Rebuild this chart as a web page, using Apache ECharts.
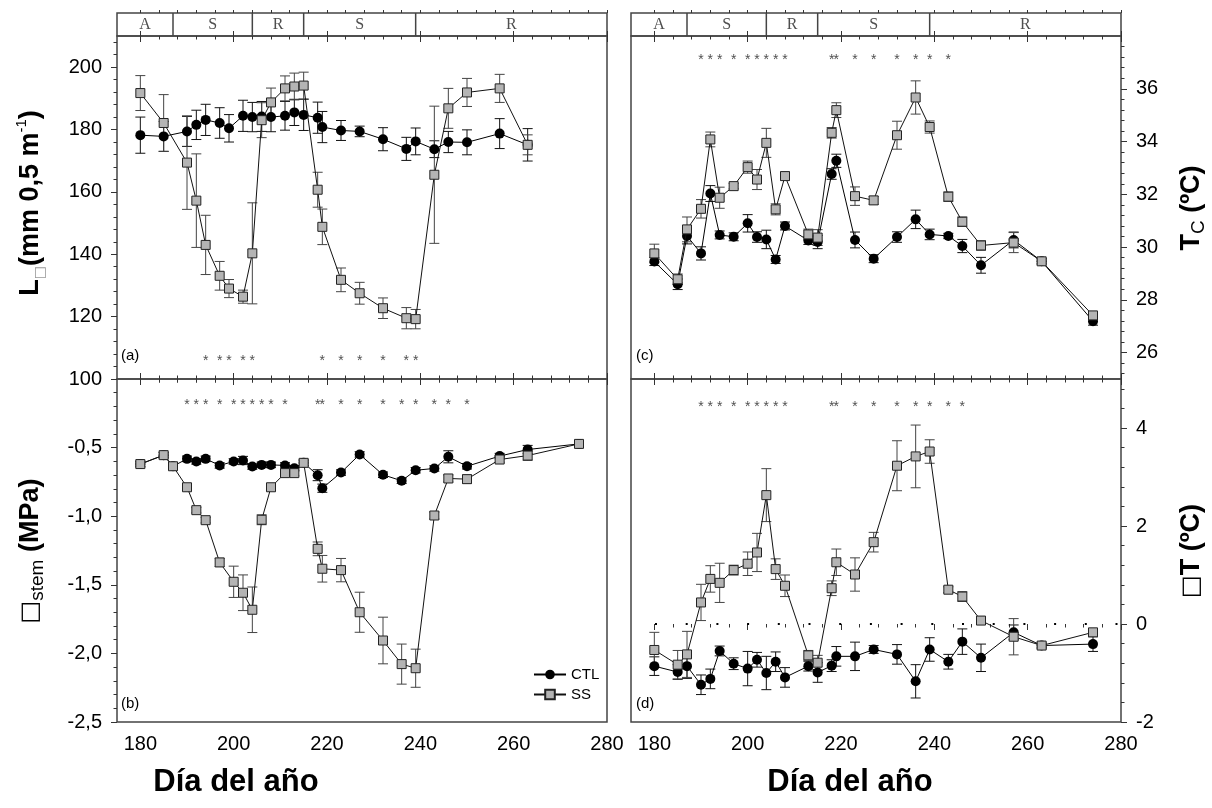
<!DOCTYPE html>
<html>
<head>
<meta charset="utf-8">
<script src="https://cdn.jsdelivr.net/npm/echarts@6/dist/echarts.min.js"></script>
<style>
  html, body { margin: 0; padding: 0; background: #fff; }
  #chart { width: 1212px; height: 808px; }
</style>
</head>
<body>
<div id="chart"></div>
<script>
// ---- data ----
var xTickLabels = [180, 200, 220, 240, 260, 280];
var lTickLabels = [100, 120, 140, 160, 180, 200];
var psiTickLabels = [-2.5, -2, -1.5, -1, -0.5];
var tcTickLabels = [26, 28, 30, 32, 34, 36];
var dtTickLabels = [-2, 0, 2, 4];

var phaseBounds = [175, 187, 204, 215, 239, 280];
var phaseNames = ['A', 'S', 'R', 'S', 'R'];

// (a) L
var daysA = [180,185,190,192,194,197,199,202,204,206,208,211,213,215,218,219,223,227,232,237,239,243,246,250,257,263];
var lCtl = [178.2,177.8,179.4,181.5,183.1,182.1,180.4,184.4,184.0,184.2,184.0,184.4,185.5,184.7,183.8,180.8,179.7,179.4,176.9,173.8,176.2,173.7,176.0,175.9,178.7,175.1];
var lCtlErr = [5.8,4.8,4.8,4.7,5.0,4.9,4.4,5.0,4.7,4.8,4.7,4.6,4.2,5.0,5.0,5.0,3.2,1.7,3.7,3.7,4.3,2.7,3.4,4.0,4.8,5.2];
var lSs = [191.7,182.1,169.4,157.2,143.0,133.1,129.0,126.4,140.3,183.0,188.7,193.2,193.8,194.1,160.7,148.8,131.8,127.5,122.7,119.5,119.2,165.5,186.8,191.9,193.2,175.1];
var lSsErr = [5.6,9.1,15,15,9.5,4.6,2.9,2.1,16.2,5.6,4.6,4.0,4.3,4.3,5.6,5.7,3.8,3.5,3.3,3.4,3.1,22,6.4,4.5,4.5,3.2];
var starsA = [194,197,199,202,204,219,223,227,232,237,239];

// (b) stem water potential
var daysB = [180,185,187,190,192,194,197,200,202,204,206,208,211,213,215,218,219,223,227,232,236,239,243,246,250,257,263,274];
var psiCtl = [-0.62,-0.555,-0.636,-0.582,-0.601,-0.582,-0.630,-0.601,-0.594,-0.638,-0.626,-0.626,-0.630,-0.650,-0.611,-0.701,-0.796,-0.682,-0.550,-0.698,-0.742,-0.665,-0.652,-0.567,-0.636,-0.562,-0.514,-0.473];
var psiCtlErr = [0.02,0.02,0.02,0.02,0.02,0.02,0.02,0.02,0.03,0.02,0.02,0.02,0.02,0.02,0.02,0.04,0.03,0.02,0.02,0.02,0.02,0.02,0.02,0.044,0.02,0.02,0.03,0.02];
var psiSs = [-0.62,-0.555,-0.636,-0.789,-0.956,-1.029,-1.337,-1.478,-1.558,-1.682,-1.026,-0.789,-0.686,-0.686,-0.611,-1.238,-1.383,-1.393,-1.700,-1.906,-2.078,-2.108,-0.995,-0.725,-0.730,-0.587,-0.558,-0.473];
var psiSsErr = [0.02,0.02,0.02,0.02,0.02,0.02,0.03,0.114,0.13,0.166,0.036,0.02,0.02,0.02,0.02,0.05,0.097,0.085,0.146,0.17,0.146,0.139,0.025,0.025,0.03,0.02,0.035,0.02];
var starsB = [190,192,194,197,200,202,204,206,208,211,218,219,223,227,232,236,239,243,246,250];

// (c) canopy temperature
var daysC = [180,185,187,190,192,194,197,200,202,204,206,208,213,215,218,219,223,227,232,236,239,243,246,250,257,263,274];
var tcCtl = [29.45,28.59,30.42,29.76,32.03,30.46,30.39,30.90,30.38,30.29,29.53,30.80,30.25,30.19,32.77,33.27,30.27,29.56,30.38,31.05,30.48,30.42,30.04,29.31,30.27,29.46,27.19];
var tcCtlErr = [0.15,0.2,0.3,0.25,0.3,0.15,0.15,0.33,0.2,0.35,0.15,0.15,0.15,0.25,0.2,0.25,0.3,0.15,0.2,0.35,0.2,0.1,0.25,0.3,0.3,0.1,0.15];
var tcSs = [29.76,28.78,30.67,31.45,34.08,31.87,32.31,33.03,32.56,33.95,31.43,32.69,30.48,30.36,34.33,35.19,31.93,31.77,34.24,35.67,34.55,31.91,30.96,30.06,30.17,29.46,27.41];
var tcSsErr = [0.35,0.2,0.47,0.35,0.28,0.4,0.1,0.23,0.38,0.55,0.21,0.15,0.2,0.3,0.2,0.28,0.35,0.15,0.53,0.63,0.23,0.18,0.18,0.18,0.38,0.1,0.15];
var starsC = [190,192,194,197,200,202,204,206,208,218,219,223,227,232,236,239,243];

// (d) canopy - air temperature
var daysD = [180,185,187,190,192,194,197,200,202,204,206,208,213,215,218,219,223,227,232,236,239,243,246,250,257,263,274];
var dtCtl = [-0.86,-0.98,-0.86,-1.24,-1.12,-0.55,-0.81,-0.91,-0.73,-1.00,-0.77,-1.09,-0.86,-0.99,-0.85,-0.66,-0.66,-0.52,-0.62,-1.17,-0.52,-0.77,-0.36,-0.69,-0.17,-0.44,-0.41];
var dtCtlErr = [0.19,0.15,0.25,0.2,0.2,0.1,0.12,0.35,0.15,0.34,0.2,0.2,0.1,0.2,0.12,0.2,0.29,0.08,0.2,0.34,0.24,0.15,0.26,0.28,0.15,0.05,0.15];
var dtSs = [-0.53,-0.83,-0.62,0.44,0.92,0.84,1.10,1.23,1.46,2.63,1.12,0.78,-0.64,-0.79,0.73,1.26,1.01,1.67,3.23,3.42,3.52,0.70,0.56,0.07,-0.26,-0.44,-0.17];
var dtSsErr = [0.36,0.29,0.47,0.37,0.27,0.4,0.1,0.24,0.39,0.54,0.21,0.22,0.1,0.15,0.15,0.27,0.34,0.2,0.51,0.64,0.24,0.06,0.1,0.08,0.37,0.05,0.05];
var starsD = [190,192,194,197,200,202,204,206,208,218,219,223,227,232,236,239,243,246];

// ---- layout / helpers ----
var FONT = '"Liberation Sans", Arial, Helvetica, sans-serif';
var FRAME = '#444';

function range(a, b, step) {
  var out = [];
  for (var k = 0; a + k * step <= b + 1e-9; k++) out.push(+(a + k * step).toFixed(4));
  return out;
}
var xMinorTicks = range(180, 280, 4);

var xAxes = [], yAxes = [], series = [];

function xAx(g, pos, inside, ticks, len, labels) {
  return {
    type: 'value', gridIndex: g, position: pos, min: 175, max: 280,
    axisLine: { show: false }, splitLine: { show: false },
    axisTick: { show: true, inside: inside, length: len, customValues: ticks, lineStyle: { color: '#333', width: 1 } },
    axisLabel: labels ? { show: true, customValues: labels, margin: 12, fontSize: 20, color: '#000', fontFamily: FONT } : { show: false }
  };
}

function yAx(g, pos, min, max, ticks, len, labels, fmt) {
  return {
    type: 'value', gridIndex: g, position: pos, min: min, max: max,
    axisLine: { show: false }, splitLine: { show: false },
    axisTick: { show: true, inside: false, length: len, customValues: ticks, lineStyle: { color: '#333', width: 1 } },
    axisLabel: labels ? { show: true, customValues: labels, margin: 15, fontSize: 20, color: '#000', fontFamily: FONT, formatter: fmt } : { show: false }
  };
}

function errRender(color) {
  return function (params, api) {
    var x = api.value(0);
    var p1 = api.coord([x, api.value(2)]);
    var p2 = api.coord([x, api.value(1)]);
    var w = 5;
    var st = { stroke: color, lineWidth: 1 };
    return {
      type: 'group', children: [
        { type: 'line', shape: { x1: p1[0], y1: p1[1], x2: p2[0], y2: p2[1] }, style: st },
        { type: 'line', shape: { x1: p1[0] - w, y1: p1[1], x2: p1[0] + w, y2: p1[1] }, style: st },
        { type: 'line', shape: { x1: p2[0] - w, y1: p2[1], x2: p2[0] + w, y2: p2[1] }, style: st }
      ]
    };
  };
}

function addStrip(g) {
  var xi = xAxes.length;
  xAxes.push(xAx(g, 'top', false, xTickLabels, 5, null));
  xAxes.push(xAx(g, 'top', false, xMinorTicks, 3, null));
  var yi = yAxes.length;
  yAxes.push({ type: 'value', gridIndex: g, min: 0, max: 1, show: false });
  series.push({
    type: 'custom', xAxisIndex: xi, yAxisIndex: yi, silent: true,
    data: phaseBounds.slice(1, -1).map(function (b) { return [b, 0]; }),
    renderItem: function (params, api) {
      var p1 = api.coord([api.value(0), 0]);
      var p2 = api.coord([api.value(0), 1]);
      return { type: 'line', shape: { x1: p1[0], y1: p1[1], x2: p2[0], y2: p2[1] }, style: { stroke: FRAME, lineWidth: 1.5 } };
    }
  });
  series.push({
    type: 'scatter', xAxisIndex: xi, yAxisIndex: yi, silent: true, symbolSize: 1,
    itemStyle: { color: 'rgba(0,0,0,0)' },
    data: phaseNames.map(function (n, i) { return { name: n, value: [(phaseBounds[i] + phaseBounds[i + 1]) / 2, 0.5] }; }),
    label: { show: true, position: 'inside', formatter: '{b}', fontSize: 16, color: '#222', fontFamily: '"Liberation Serif", "Times New Roman", serif' }
  });
}

function addPanel(g, isTop, yPos, yMin, yMax, yLabels, yMinor, fmt, d) {
  var xi = xAxes.length;
  xAxes.push(xAx(g, 'bottom', isTop, xTickLabels, 6, isTop ? null : xTickLabels));
  xAxes.push(xAx(g, 'bottom', isTop, xMinorTicks, 3.5, null));
  xAxes.push(xAx(g, 'top', true, xTickLabels, 6, null));
  xAxes.push(xAx(g, 'top', true, xMinorTicks, 3.5, null));
  var yi = yAxes.length;
  yAxes.push(yAx(g, yPos, yMin, yMax, yLabels, 6, yLabels, fmt));
  yAxes.push(yAx(g, yPos, yMin, yMax, yMinor, 3.5, null));

  function errData(vals, errs) {
    return d.days.map(function (day, i) { return [day, vals[i] - errs[i], vals[i] + errs[i]]; });
  }
  function pts(vals) {
    return d.days.map(function (day, i) { return [day, vals[i]]; });
  }
  series.push({ type: 'custom', xAxisIndex: xi, yAxisIndex: yi, silent: true, z: 1, renderItem: errRender('#111'), data: errData(d.ctl, d.ctlErr) });
  series.push({ type: 'custom', xAxisIndex: xi, yAxisIndex: yi, silent: true, z: 1, renderItem: errRender('#444'), data: errData(d.ss, d.ssErr) });
  var ctl = {
    type: 'line', name: 'CTL', xAxisIndex: xi, yAxisIndex: yi, z: 3,
    data: pts(d.ctl), symbol: 'circle', symbolSize: 10,
    itemStyle: { color: '#000' }, lineStyle: { color: '#000', width: 1 }
  };
  if (d.zeroDots) {
    ctl.markLine = {
      silent: true, symbol: 'none', label: { show: false },
      lineStyle: { color: '#000', width: 2, type: [2, 28.7], dashOffset: 6.7 },
      data: [{ yAxis: 0 }]
    };
  }
  series.push(ctl);
  series.push({
    type: 'line', name: 'SS', xAxisIndex: xi, yAxisIndex: yi, z: 4,
    data: pts(d.ss), symbol: 'rect', symbolSize: 9,
    itemStyle: { color: '#b4b4b4', borderColor: '#222', borderWidth: 1 },
    lineStyle: { color: '#111', width: 1 }
  });
  series.push({
    type: 'scatter', xAxisIndex: xi, yAxisIndex: yi, silent: true, symbolSize: 1, z: 5,
    itemStyle: { color: 'rgba(0,0,0,0)' },
    data: d.stars.map(function (day) { return [day, d.starY]; }),
    label: { show: true, position: 'inside', formatter: '*', fontSize: 14, color: '#222', fontFamily: FONT }
  });
}

function gridBox(left, top, h) {
  return { left: left, top: top, width: 490, height: h, show: true, borderColor: FRAME, borderWidth: 1.5, backgroundColor: 'rgba(0,0,0,0)', containLabel: false, outerBoundsMode: 'none' };
}
var grids = [
  gridBox(117, 13, 23), gridBox(117, 36, 343), gridBox(117, 379, 343),
  gridBox(631, 13, 23), gridBox(631, 36, 343), gridBox(631, 379, 343)
];

var commaFmt = function (v) { return v.toFixed(1).replace('.', ','); };

addStrip(0);
addPanel(1, true, 'left', 100, 210, lTickLabels, range(100, 208, 4), null,
  { days: daysA, ctl: lCtl, ctlErr: lCtlErr, ss: lSs, ssErr: lSsErr, stars: starsA, starY: 105.8 });
addPanel(2, false, 'left', -2.5, 0, psiTickLabels, range(-2.5, -0.1, 0.1), commaFmt,
  { days: daysB, ctl: psiCtl, ctlErr: psiCtlErr, ss: psiSs, ssErr: psiSsErr, stars: starsB, starY: -0.19 });
addStrip(3);
addPanel(4, true, 'right', 25, 38, tcTickLabels, range(25.2, 37.6, 0.4), null,
  { days: daysC, ctl: tcCtl, ctlErr: tcCtlErr, ss: tcSs, ssErr: tcSsErr, stars: starsC, starY: 37.08 });
addPanel(5, false, 'right', -2, 5, dtTickLabels, range(-2, 4.8, 0.4), null,
  { days: daysD, ctl: dtCtl, ctlErr: dtCtlErr, ss: dtSs, ssErr: dtSsErr, stars: starsD, starY: 4.42, zeroDots: true });

function vtext(x, y, text, rich) {
  return { type: 'text', x: x, y: y, rotation: Math.PI / 2, silent: true,
    style: { text: text, rich: rich, align: 'center', verticalAlign: 'middle' } };
}
function htext(x, y, text, size, weight, align) {
  return { type: 'text', x: x, y: y, silent: true,
    style: { text: text, fontSize: size, fontWeight: weight, fontFamily: FONT, fill: '#000', align: align, verticalAlign: 'middle' } };
}
var bold = { fontSize: 27, fontWeight: 'bold', fontFamily: FONT, lineHeight: 33, fill: '#000' };
var graphics = [
  vtext(31, 203, '{b|L}{s|\u25A1}{b|(mm 0,5 m}{p|-1}{b|)}', {
    b: bold,
    s: { fontSize: 14, fill: '#999', fontFamily: '"DejaVu Sans"', verticalAlign: 'bottom' },
    p: { fontSize: 15, fontFamily: FONT, fill: '#000', verticalAlign: 'top' }
  }),
  vtext(31, 551, '{k|\u25A1}{s|stem}{b| (MPa)}', {
    b: bold,
    k: { fontSize: 24, fontFamily: '"DejaVu Sans"', fill: '#000' },
    s: { fontSize: 19, fontFamily: FONT, fill: '#000', verticalAlign: 'bottom' }
  }),
  vtext(1192, 208, '{b|T}{c|C}{b| (\u00BAC)}', {
    b: bold,
    c: { fontSize: 19, fontFamily: FONT, fill: '#000', verticalAlign: 'bottom', lineHeight: 28 }
  }),
  vtext(1192, 551, '{k|\u25A1}{b|T (\u00BAC)}', {
    b: bold,
    k: { fontSize: 24, fontFamily: '"DejaVu Sans"', fill: '#000' }
  }),
  htext(236, 782, 'Día del año', 31, 'bold', 'center'),
  htext(850, 782, 'Día del año', 31, 'bold', 'center'),
  htext(121, 356, '(a)', 15, 'normal', 'left'),
  htext(121, 704, '(b)', 15, 'normal', 'left'),
  htext(636, 356, '(c)', 15, 'normal', 'left'),
  htext(636, 704, '(d)', 15, 'normal', 'left')
];

var chart = echarts.init(document.getElementById('chart'));
chart.setOption({
  animation: false,
  backgroundColor: '#fff',
  grid: grids,
  xAxis: xAxes,
  yAxis: yAxes,
  legend: {
    data: ['CTL', 'SS'], orient: 'vertical', left: 528, top: 662,
    itemWidth: 32, itemHeight: 12, itemGap: 5, selectedMode: false,
    textStyle: { fontSize: 15, fontFamily: FONT, color: '#000' }
  },
  graphic: graphics,
  series: series
});
</script>
</body>
</html>
